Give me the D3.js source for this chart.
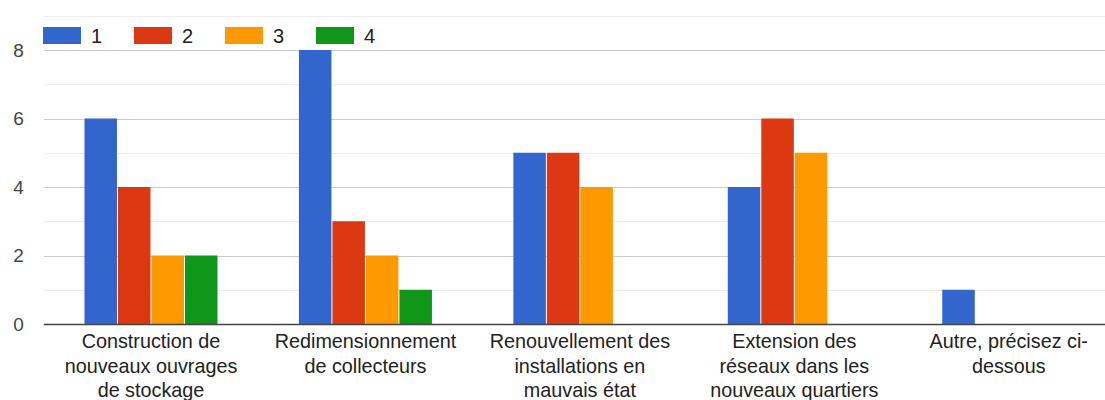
<!DOCTYPE html>
<html>
<head>
<meta charset="utf-8">
<script src="https://cdn.jsdelivr.net/npm/d3@7"></script>
<style>
  html, body { margin: 0; padding: 0; background: #fff; }
  svg { display: block; font-family: "Liberation Sans", Arial, sans-serif; }
</style>
</head>
<body>
<svg id="chart" width="1105" height="400"></svg>
<script>
// Categories (x axis), each label split over lines
const categories = [
  ["Construction de", "nouveaux ouvrages", "de stockage"],
  ["Redimensionnement", "de collecteurs"],
  ["Renouvellement des", "installations en", "mauvais état"],
  ["Extension des", "réseaux dans les", "nouveaux quartiers"],
  ["Autre, précisez ci-", "dessous"]
];

// Series names and counts per category
const seriesNames = ["1", "2", "3", "4"];
const series1 = [6, 8, 5, 4, 1];
const series2 = [4, 3, 5, 6, 0];
const series3 = [2, 2, 4, 5, 0];
const series4 = [2, 1, 0, 0, 0];
const seriesColors = ["#3366cc", "#dc3912", "#ff9900", "#109618"];

// Y axis ticks
const majorTicks = [0, 2, 4, 6, 8];
const minorTicks = [1, 3, 5, 7, 9];

const allSeries = [series1, series2, series3, series4];

const svg = d3.select("#chart");
const margin = { left: 43.75, right: -11, top: 15.75, bottom: 76 };
const width = 1105, height = 400;

const x0 = d3.scaleBand()
  .domain(d3.range(categories.length))
  .range([margin.left, width - margin.right])
  .paddingInner(0.375)
  .paddingOuter(0.1875);

const x1 = d3.scaleBand()
  .domain(d3.range(seriesNames.length))
  .range([0, x0.bandwidth()]);

const y = d3.scaleLinear().domain([0, 9]).range([height - margin.bottom, margin.top]);

// gridlines
svg.append("g").selectAll("line.minor").data(minorTicks).join("line")
  .attr("x1", margin.left).attr("x2", width)
  .attr("y1", d => Math.round(y(d)) + 0.5).attr("y2", d => Math.round(y(d)) + 0.5)
  .attr("stroke", "#ededed").attr("stroke-width", 1);
svg.append("g").selectAll("line.major").data(majorTicks.filter(d => d > 0)).join("line")
  .attr("x1", margin.left).attr("x2", width)
  .attr("y1", d => Math.round(y(d)) + 0.5).attr("y2", d => Math.round(y(d)) + 0.5)
  .attr("stroke", "#cccccc").attr("stroke-width", 1);

// y labels
const yAxis = d3.axisLeft(y).tickValues(majorTicks).tickSize(0).tickPadding(20);
const yg = svg.append("g").attr("transform", `translate(${margin.left},0)`).call(yAxis);
yg.select(".domain").remove();
yg.selectAll("text").attr("font-size", 19).attr("fill", "#444")
  .attr("font-family", "Liberation Sans, Arial, sans-serif");

// bars
const groups = svg.append("g").selectAll("g").data(categories.map((c, i) => i)).join("g")
  .attr("transform", i => `translate(${x0(i)},0)`);
groups.selectAll("rect")
  .data(i => allSeries.map((s, k) => ({ k, v: s[i] })).filter(d => d.v > 0))
  .join("rect")
  .attr("x", d => x1(d.k) + 0.5)
  .attr("width", x1.bandwidth() - 1)
  .attr("y", d => y(d.v))
  .attr("height", d => y(0) - y(d.v))
  .attr("fill", d => seriesColors[d.k]);

// baseline
svg.append("line")
  .attr("x1", margin.left).attr("x2", width)
  .attr("y1", y(0) + 0.5).attr("y2", y(0) + 0.5)
  .attr("stroke", "#444").attr("stroke-width", 1.5);

// x labels
const xl = svg.append("g").selectAll("text").data(categories).join("text")
  .attr("x", (d, i) => x0(i) + x0.bandwidth() / 2)
  .attr("y", y(0) + 24)
  .attr("text-anchor", "middle")
  .attr("font-size", 19.8)
  .attr("fill", "#222");
xl.selectAll("tspan").data(d => d).join("tspan")
  .attr("x", function() { return d3.select(this.parentNode).attr("x"); })
  .attr("dy", (d, i) => i === 0 ? 0 : 24.5)
  .text(d => d);

// legend
const legend = svg.append("g").selectAll("g").data(seriesNames).join("g")
  .attr("transform", (d, i) => `translate(${43 + i * 91},27)`);
legend.append("rect").attr("width", 38).attr("height", 17)
  .attr("fill", (d, i) => seriesColors[i]);
legend.append("text").attr("x", 48).attr("y", 16)
  .attr("font-size", 20).attr("fill", "#222").text(d => d);
</script>
</body>
</html>
